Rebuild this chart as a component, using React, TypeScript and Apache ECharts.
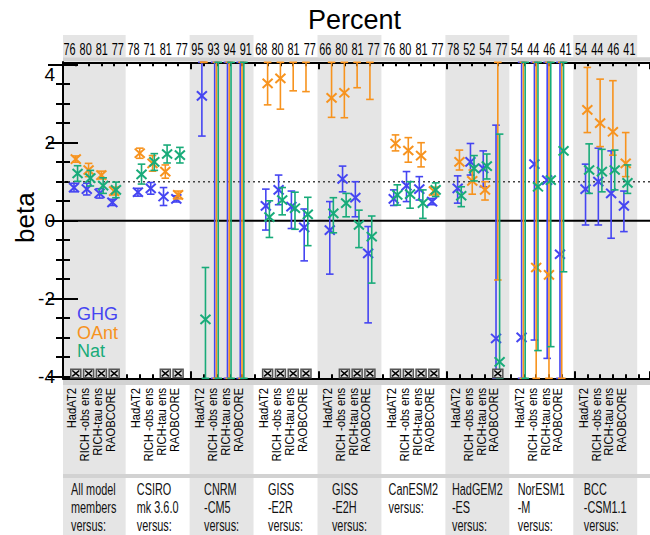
import React, { useEffect, useRef } from 'react';
import * as echarts from 'echarts';

const FONT = "'Liberation Sans', Arial, Helvetica, sans-serif";

// Model blocks (label lines) and the four observational datasets in each block
const modelNames = [
  ['All model', 'members', 'versus:'],
  ['CSIRO', 'mk 3.6.0', 'versus:'],
  ['CNRM', '-CM5', 'versus:'],
  ['GISS', '-E2R', 'versus:'],
  ['GISS', '-E2H', 'versus:'],
  ['CanESM2', 'versus:'],
  ['HadGEM2', '-ES', 'versus:'],
  ['NorESM1', '-M', 'versus:'],
  ['BCC', '-CSM1.1', 'versus:'],
];
const obsNames = ['HadAT2', 'RICH -obs ens', 'RICH-tau ens', 'RAOBCORE'];
const percentValid = [
  [76, 80, 81, 77], [78, 71, 81, 77], [95, 93, 94, 91], [68, 80, 81, 77], [66, 80, 81, 77],
  [76, 80, 81, 77], [78, 52, 54, 77], [54, 44, 46, 41], [54, 44, 46, 41],
];
const yTickLabels = [-4, -2, 0, 2, 4];

// Scaling factors (beta) with lower / upper range, 4 datasets x 9 model blocks
const ghgBeta = [
  0.85, 0.81, 0.70, 0.47,
  0.73, 0.83, 0.62, 0.56,
  3.20, 5.5, 5.0, 6.0,
  0.38, 0.79, 0.36, -0.17,
  -0.24, 1.07, 0.59, -0.84,
  0.56, 0.90, 0.81, 0.49,
  0.83, 1.51, 1.34, -3.02,
  -2.99, 1.45, 1.04, -0.86,
  0.81, 1.00, 0.70, 0.38,
];
const ghgLow = [
  0.74, 0.66, 0.58, 0.39,
  0.63, 0.68, 0.39, 0.48,
  2.17, -8.0, -7.0, -9.0,
  -0.24, 0.41, -0.20, -1.03,
  -1.37, 0.74, 0.10, -2.62,
  0.39, 0.49, 0.53, 0.41,
  0.45, 1.17, 0.87, -7.0,
  -9.0, -3.06, -3.53, -9.0,
  -0.11, -0.11, -0.45, -0.28,
];
const ghgHigh = [
  0.96, 0.96, 0.82, 0.55,
  0.83, 0.98, 0.85, 0.64,
  5.5, 20, 18, 22,
  0.81, 1.17, 0.76, 0.30,
  0.49, 1.40, 1.00, -0.15,
  0.79, 1.26, 1.13, 0.57,
  1.15, 1.98, 1.79, 2.45,
  9.0, 9.0, 9.0, 9.0,
  1.45, 1.86, 1.79, 0.76,
];

const oantBeta = [
  1.58, 1.30, 1.17, 0.76,
  1.73, 1.47, 1.26, 0.66,
  7.0, 6.0, 5.5, 6.5,
  3.52, 3.65, 4.6, 4.5,
  3.15, 3.28, 4.6, 4.5,
  1.98, 1.80, 1.67, 0.76,
  1.51, 1.02, 0.79, 4.5,
  6.0, -1.20, -1.39, 6.0,
  2.84, 2.50, 2.28, 1.47,
];
const oantLow = [
  1.50, 1.13, 1.07, 0.66,
  1.60, 1.27, 1.09, 0.56,
  4.5, -9, -8, -10,
  2.97, 2.86, 3.33, 3.31,
  2.65, 2.64, 3.41, 3.11,
  1.79, 1.50, 1.38, 0.66,
  1.30, 0.68, 0.53, -1.52,
  -9, -9, -9, -9,
  2.26, 1.90, 1.68, 1.13,
];
const oantHigh = [
  1.66, 1.47, 1.27, 0.86,
  1.86, 1.67, 1.43, 0.76,
  10, 21, 19, 23,
  4.5, 4.6, 6.0, 6.0,
  4.6, 4.8, 6.0, 6.0,
  2.20, 2.13, 2.00, 0.86,
  1.81, 1.30, 1.00, 9.0,
  10, 10, 10, 10,
  3.93, 3.63, 3.59, 2.26,
];

const natBeta = [
  1.21, 1.09, 0.90, 0.79,
  1.19, 1.51, 1.71, 1.68,
  -2.53, 5.0, 4.5, 5.5,
  0.09, 0.53, 0.32, 0.16,
  0.19, 0.45, -0.11, -0.41,
  0.66, 0.68, 0.45, 0.79,
  0.64, 1.34, 1.40, -3.62,
  6.0, 0.87, 1.04, 1.79,
  1.30, 1.26, 1.30, 0.97,
];
const natLow = [
  1.01, 0.89, 0.70, 0.59,
  0.94, 1.29, 1.48, 1.48,
  -5.0, -8, -7, -9,
  -0.43, 0.15, -0.22, -0.64,
  -0.31, 0.10, -0.69, -1.60,
  0.40, 0.32, 0.06, 0.62,
  0.36, 1.02, 1.07, -7.0,
  -9, -3.33, -3.23, -1.31,
  0.70, 0.74, 0.79, 0.70,
];
const natHigh = [
  1.41, 1.29, 1.10, 0.99,
  1.45, 1.72, 1.94, 1.88,
  -1.2, 18, 17, 20,
  0.51, 0.85, 0.73, 0.60,
  0.59, 0.70, 0.27, 0.12,
  0.92, 1.00, 0.79, 0.97,
  0.87, 1.67, 1.71, 2.22,
  10, 9, 9, 9,
  1.97, 1.83, 1.81, 1.43,
];

// Blocks marked with the boxed cross along the bottom
const inconsistent = [
  [1, 1, 1, 1], [0, 0, 1, 1], [0, 0, 0, 0], [1, 1, 1, 1], [0, 1, 1, 1],
  [1, 1, 1, 1], [0, 0, 0, 1], [0, 0, 0, 0], [0, 0, 0, 0],
];

const forcings = [
  { name: 'GHG', color: '#4545f2', beta: ghgBeta, low: ghgLow, high: ghgHigh, shift: -0.14 },
  { name: 'OAnt', color: '#f7931e', beta: oantBeta, low: oantLow, high: oantHigh, shift: 0 },
  { name: 'Nat', color: '#18ab79', beta: natBeta, low: natLow, high: natHigh, shift: 0.14 },
];

const GROUP = 5; // axis units per model block (4 datasets + gap)
const slot = (g: number, k: number) => GROUP * g + k + 1;
const X_MAX = 45.9;
const TOP_OFF = 2.4;
const BOT_OFF = 1.6;

const errorBarRenderer = (color: string, shift: number) => (params: any, api: any) => {
  const cs = params.coordSys;
  const top = cs.y - TOP_OFF;
  const bottom = cs.y + cs.height + BOT_OFF;
  const xv = api.value(0);
  const px = api.coord([xv + shift, 0])[0];
  const yOf = (v: number) => api.coord([xv, v])[1];
  const clamp = (y: number) => Math.min(bottom, Math.max(top, y));
  const y1 = clamp(yOf(api.value(2)));
  const y2 = clamp(yOf(api.value(3)));
  const yc = yOf(api.value(1));
  const bar = { stroke: color, lineWidth: 1.6 };
  const cap = 3.8;
  const children: any[] = [
    { type: 'line', shape: { x1: px, y1, x2: px, y2 }, style: bar },
    { type: 'line', shape: { x1: px - cap, y1, x2: px + cap, y2: y1 }, style: bar },
    { type: 'line', shape: { x1: px - cap, y1: y2, x2: px + cap, y2 }, style: bar },
  ];
  if (yc >= top && yc <= bottom) {
    const mx = 5;
    const my = 4.6;
    const mark = { stroke: color, lineWidth: 2 };
    children.push({ type: 'line', shape: { x1: px - mx, y1: yc - my, x2: px + mx, y2: yc + my }, style: mark });
    children.push({ type: 'line', shape: { x1: px - mx, y1: yc + my, x2: px + mx, y2: yc - my }, style: mark });
  }
  return { type: 'group', children };
};

const flagRenderer = (params: any, api: any) => {
  const cs = params.coordSys;
  const bottom = cs.y + cs.height + BOT_OFF - 0.6;
  const px = api.coord([api.value(0), 0])[0];
  const w = 10;
  const h = 8.5;
  const x0 = px - w / 2;
  const y0 = bottom - h;
  return {
    type: 'group',
    children: [
      { type: 'rect', shape: { x: x0, y: y0, width: w, height: h }, style: { fill: '#dcdcdc', stroke: '#555', lineWidth: 1.5 } },
      { type: 'line', shape: { x1: x0 + 1.5, y1: y0 + 1.3, x2: x0 + w - 1.5, y2: y0 + h - 1.3 }, style: { stroke: '#000', lineWidth: 1.5 } },
      { type: 'line', shape: { x1: x0 + 1.5, y1: y0 + h - 1.3, x2: x0 + w - 1.5, y2: y0 + 1.3 }, style: { stroke: '#000', lineWidth: 1.5 } },
    ],
  };
};

const xAxisDef = (position: string, interval: number, len: number, showLine: boolean, offset: number) => ({
  type: 'value',
  min: 0,
  max: X_MAX,
  interval,
  position,
  offset,
  axisLine: { show: showLine, onZero: false, lineStyle: { color: '#000', width: 2 } },
  axisTick: { show: true, inside: true, length: len, lineStyle: { color: '#000', width: 2 } },
  axisLabel: { show: false },
  splitLine: { show: false },
});

const yAxisDef = (position: string, withLabels: boolean) => ({
  type: 'value',
  min: -4,
  max: 4,
  interval: 2,
  position,
  axisLine: { show: false },
  axisTick: { show: true, inside: true, length: 15, lineStyle: { color: '#000', width: 2 } },
  minorTick: { show: true, splitNumber: 4, length: 7, lineStyle: { color: '#000', width: 2 } },
  splitLine: { show: false },
  axisLabel: {
    show: withLabels,
    margin: 8,
    fontSize: 19,
    fontFamily: FONT,
    color: '#000',
    verticalAlignMaxLabel: 'top',
    formatter: (v: number) => (yTickLabels.includes(v) ? String(v) : ''),
  },
});

function textWidth(text: string, size: number) {
  const ctx = document.createElement('canvas').getContext('2d');
  if (!ctx) return text.length * size * 0.5;
  ctx.font = `${size}px ${FONT}`;
  return ctx.measureText(text).width;
}

function buildGraphics(chart: any) {
  const xpx = (v: number) => chart.convertToPixel({ xAxisIndex: 0 }, v);
  const ypx = (v: number) => chart.convertToPixel({ yAxisIndex: 0 }, v);
  const L = 63;
  const R = 650;
  const frameTop = ypx(4) - TOP_OFF;
  const frameBottom = ypx(-4) + BOT_OFF;
  const els: any[] = [];
  const rect = (x0: number, y0: number, x1: number, y1: number, fill: string) => ({
    type: 'rect', z: -1, silent: true,
    shape: { x: x0, y: y0, width: x1 - x0, height: y1 - y0 },
    style: { fill },
  });
  const text = (t: string, x: number, y: number, size: number, fill: string, extra: any = {}) => ({
    type: 'text', z: 10, silent: true, x, y, ...extra,
    style: {
      text: t, fill, fontSize: size, fontFamily: FONT,
      align: extra.align || 'center', verticalAlign: 'middle',
      textAlign: extra.align || 'center', textVerticalAlign: 'middle',
    },
  });

  // alternating block shading: plot, percentage row, dataset labels, model labels
  modelNames.forEach((_, g) => {
    if (g % 2) return;
    const x0 = Math.max(L, xpx(GROUP * g - 0.1));
    const x1 = xpx(GROUP * g + 4.9);
    els.push(rect(x0, frameTop, x1, frameBottom, '#e5e5e5'));
    els.push(rect(x0, 35, x1, 57.3, '#e5e5e5'));
    els.push(rect(x0, 385, x1, 474, '#e5e5e5'));
    els.push(rect(x0, 478, x1, 535, '#e5e5e5'));
  });
  els.push(rect(L, 57.3, R, frameTop - 0.8, '#d2d2d2'));
  els.push(rect(L, frameBottom + 1.2, R, 385, '#d2d2d2'));
  els.push(rect(L, 474, R, 478, '#d2d2d2'));

  // left frame, zero line, dotted beta = 1 line
  els.push({ type: 'line', z: 5, silent: true, shape: { x1: L, y1: frameTop - 1, x2: L, y2: frameBottom + 1 }, style: { stroke: '#000', lineWidth: 2 } });
  const y0 = ypx(0);
  const y1 = ypx(1);
  els.push({ type: 'line', z: 1, silent: true, shape: { x1: L, y1: y0, x2: R, y2: y0 }, style: { stroke: '#000', lineWidth: 2 } });
  els.push({ type: 'line', z: 1, silent: true, shape: { x1: L, y1: y1, x2: R, y2: y1 }, style: { stroke: '#444', lineWidth: 1.5, lineDash: [2, 3] } });

  // titles
  els.push(text('Percent', 354.5, 20, 27, '#000'));
  els.push(text('beta', 24.7, (ypx(4) + ypx(-4)) / 2 - 3, 26, '#000', { rotation: Math.PI / 2 }));

  // legend
  forcings.forEach((f, i) => {
    els.push(text(f.name, 77, 313.8 + i * 18.7, 18, f.color, { align: 'left' }));
  });

  // percentage of valid data per dataset
  percentValid.forEach((row, g) => {
    row.forEach((p, k) => {
      els.push(text(String(p), xpx(GROUP * g + 2.4 + 1.26 * (k - 1.5)), 49.5, 16, '#000', { scaleX: 0.68 }));
    });
  });

  // dataset names, rotated
  modelNames.forEach((_, g) => {
    obsNames.forEach((name, k) => {
      els.push(text(name, xpx(slot(g, k)) - 3.8, 388, 13.5, '#000', { rotation: Math.PI / 2, scaleX: 0.83, align: 'right' }));
    });
  });

  // model block names
  const nameSize = 16;
  const nameScale = 0.68;
  const baselines = [489.4, 507.7, 526.1];
  modelNames.forEach((lines, g) => {
    const w = Math.max(...lines.map((l) => textWidth(l, nameSize))) * nameScale;
    const cx = xpx(GROUP * g + 2.4);
    lines.forEach((l, i) => {
      els.push(text(l, cx - w / 2, baselines[i], nameSize, '#111', { align: 'left', scaleX: nameScale }));
    });
  });

  return els;
}

export default function App() {
  const ref = useRef<HTMLDivElement>(null);

  useEffect(() => {
    if (!ref.current) return;
    const chart = echarts.init(ref.current, null, { renderer: 'svg' });

    const series: any[] = forcings.map((f) => ({
      type: 'custom',
      name: f.name,
      xAxisIndex: 0,
      yAxisIndex: 0,
      clip: false,
      silent: true,
      z: 3,
      renderItem: errorBarRenderer(f.color, f.shift),
      encode: { x: 0, y: [1, 2, 3] },
      data: f.beta.map((b, i) => [slot(Math.floor(i / 4), i % 4), b, f.low[i], f.high[i]]),
    }));

    const flagData: number[][] = [];
    inconsistent.forEach((row, g) => row.forEach((v, k) => { if (v) flagData.push([slot(g, k), -4]); }));
    series.push({
      type: 'custom',
      name: 'flags',
      xAxisIndex: 0,
      yAxisIndex: 0,
      clip: false,
      silent: true,
      z: 4,
      renderItem: flagRenderer,
      encode: { x: 0, y: 1 },
      data: flagData,
    });

    chart.setOption({
      animation: false,
      backgroundColor: '#fff',
      grid: { left: 63, top: 64.7, width: 589, height: 312, containLabel: false },
      xAxis: [
        xAxisDef('bottom', 1, 4, true, BOT_OFF),
        xAxisDef('bottom', 10, 7, false, BOT_OFF),
        xAxisDef('top', 1, 4, true, TOP_OFF),
        xAxisDef('top', 10, 7, false, TOP_OFF),
      ],
      yAxis: [yAxisDef('left', true), yAxisDef('right', false)],
      series,
    });

    chart.setOption({ graphic: { elements: buildGraphics(chart) } });

    return () => chart.dispose();
  }, []);

  return <div ref={ref} style={{ position: 'absolute', left: 0, top: 0, width: 650, height: 535 }} />;
}
